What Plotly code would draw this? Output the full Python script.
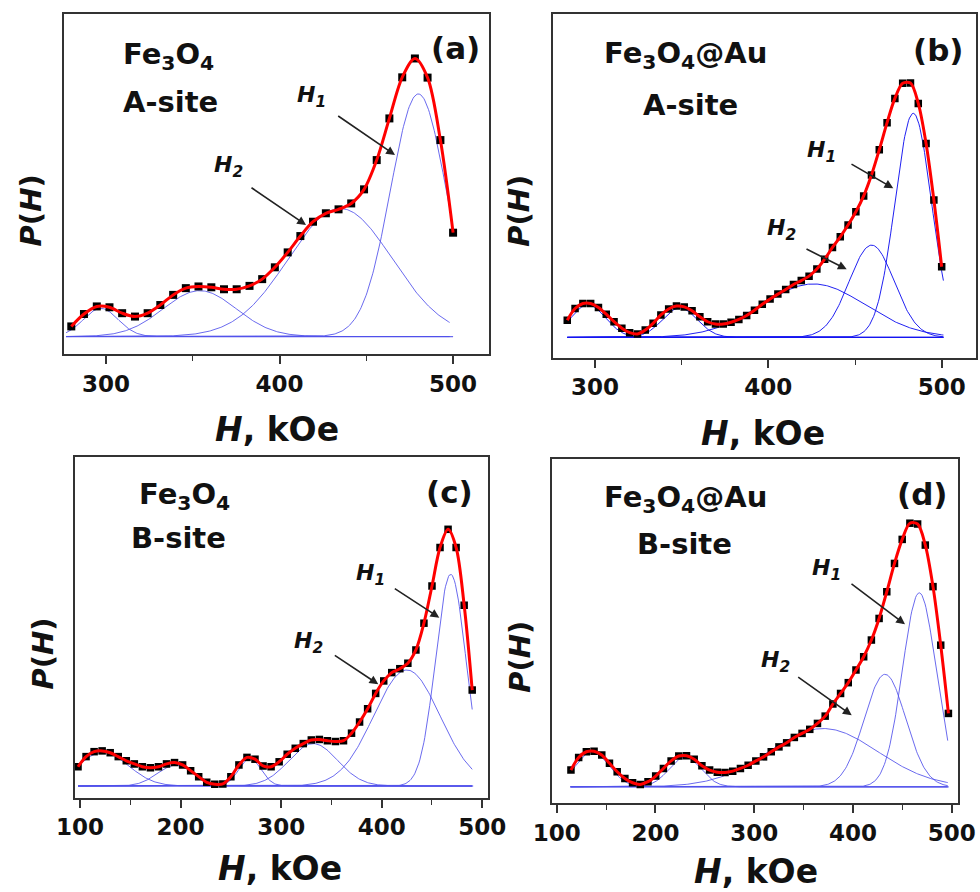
import numpy as np
import plotly.graph_objects as go

# ---------------- data ----------------
# (a) Fe3O4, A-site
H_a = [280, 287.3, 294.7, 302, 309.3, 316.7, 324, 331.3, 338.7, 346, 353.3, 360.7, 368, 375.3,
       382.7, 390, 397.3, 404.7, 412, 419.3, 426.7, 434, 441.3, 448.7, 456, 463.3, 470.7, 478,
       485.3, 492.7, 500]
P_a = [0.036, 0.080, 0.107, 0.104, 0.083, 0.071, 0.083, 0.112, 0.148, 0.172, 0.178, 0.175, 0.168,
       0.168, 0.180, 0.204, 0.246, 0.299, 0.357, 0.408, 0.438, 0.452, 0.473, 0.523, 0.627, 0.775,
       0.921, 0.988, 0.920, 0.698, 0.369]
# fitted components: centre, height, width (sigma)
comp_a_center = [297, 354, 435, 480]
comp_a_height = [0.100, 0.163, 0.455, 0.862]
comp_a_sigma = [10, 21, 30, 16]

# (b) Fe3O4@Au, A-site
H_b = [284, 288.5, 293, 297.5, 302, 306.5, 311, 315.5, 320, 324.5, 329, 333.5, 338, 342.5, 347,
       351.5, 356, 360.5, 365, 369.5, 374, 378.5, 383, 387.5, 392, 396.5, 401, 405.5, 410, 414.5,
       419, 423.5, 428, 432.5, 437, 441.5, 446, 450.5, 455, 459.5, 464, 468.5, 473, 477.5, 482,
       486.5, 491, 495.5, 500]
P_b = [0.066, 0.111, 0.130, 0.130, 0.115, 0.089, 0.060, 0.035, 0.018, 0.013, 0.028, 0.054, 0.086,
       0.109, 0.120, 0.117, 0.102, 0.079, 0.060, 0.051, 0.051, 0.058, 0.069, 0.084, 0.104, 0.127,
       0.147, 0.166, 0.184, 0.203, 0.218, 0.235, 0.262, 0.300, 0.345, 0.386, 0.431, 0.482, 0.543,
       0.623, 0.720, 0.824, 0.917, 0.975, 0.976, 0.898, 0.744, 0.527, 0.271]
comp_b_center = [296, 349, 426, 459.6, 483.6]
comp_b_height = [0.125, 0.113, 0.205, 0.354, 0.860]
comp_b_sigma = [10, 10, 30, 13, 10.5]

# (c) Fe3O4, B-site
H_c = [98, 106, 114, 122, 130, 138, 146, 154, 162, 170, 178, 186, 194, 202, 210, 218, 226, 234,
       242, 250, 258, 266, 274, 282, 290, 298, 306, 314, 322, 330, 338, 346, 354, 362, 370, 378,
       386, 394, 402, 410, 418, 426, 434, 442, 450, 458, 466, 474, 482, 490]
P_c = [0.074, 0.113, 0.132, 0.135, 0.128, 0.113, 0.097, 0.085, 0.074, 0.070, 0.074, 0.085, 0.090,
       0.081, 0.059, 0.036, 0.014, 0.007, 0.008, 0.036, 0.081, 0.110, 0.103, 0.077, 0.074, 0.093,
       0.122, 0.145, 0.163, 0.177, 0.179, 0.174, 0.171, 0.174, 0.203, 0.246, 0.297, 0.356, 0.404,
       0.436, 0.451, 0.472, 0.523, 0.626, 0.769, 0.917, 0.987, 0.917, 0.695, 0.369]
comp_c_center = [123, 195, 269, 332, 425, 468.6]
comp_c_height = [0.130, 0.080, 0.105, 0.163, 0.446, 0.814]
comp_c_sigma = [25, 18, 11, 24, 33, 15]

# (d) Fe3O4@Au, B-site
H_d = [114.5, 122.3, 130.1, 137.9, 145.7, 153.5, 161.3, 169.1, 176.9, 184.7, 192.5, 200.3, 208.1,
       215.9, 223.7, 231.5, 239.3, 247.1, 254.9, 262.7, 270.5, 278.3, 286.1, 293.9, 301.7, 309.5,
       317.3, 325.1, 332.9, 340.7, 348.5, 356.3, 364.1, 371.9, 379.7, 387.5, 395.3, 403.1, 410.9,
       418.7, 426.5, 434.3, 442.1, 449.9, 457.7, 465.5, 473.3, 481.1, 488.9, 496.7]
P_d = [0.062, 0.109, 0.130, 0.132, 0.118, 0.087, 0.056, 0.031, 0.015, 0.009, 0.019, 0.040, 0.068,
       0.096, 0.114, 0.115, 0.102, 0.078, 0.062, 0.054, 0.053, 0.058, 0.068, 0.080, 0.096, 0.111,
       0.130, 0.148, 0.163, 0.183, 0.198, 0.213, 0.235, 0.262, 0.307, 0.346, 0.386, 0.433, 0.482,
       0.544, 0.624, 0.723, 0.828, 0.917, 0.977, 0.974, 0.896, 0.742, 0.525, 0.272]
comp_d_center = [136, 230, 370, 432.5, 467.2]
comp_d_height = [0.130, 0.110, 0.216, 0.417, 0.719]
comp_d_sigma = [17, 16, 55, 21, 17]

sample_names = ["Fe<sub>3</sub>O<sub>4</sub>", "Fe<sub>3</sub>O<sub>4</sub>@Au",
                "Fe<sub>3</sub>O<sub>4</sub>", "Fe<sub>3</sub>O<sub>4</sub>@Au"]
site_names = ["A-site", "A-site", "B-site", "B-site"]
panel_tags = ["(a)", "(b)", "(c)", "(d)"]

# ---------------- layout helpers ----------------
W, Hh = 980, 892
FONT = "DejaVu Sans"
def fx(x):
    return x / W
def fy(y):
    return 1 - y / Hh

panels = [
    dict(H=H_a, P=P_a, cc=comp_a_center, ch=comp_a_height, cs=comp_a_sigma,
         box=(64, 489, 14, 354), xr=[275.8, 520.7], yr=[-0.062, 1.146], clo=277, chi=498, blo=277, bhi=500,
         blue="rgba(80,80,235,0.85)", msize=8,
         name_xy=(168.3, 55.8), site_xy=(170, 102), tag_xy=(455, 47.5),
         h1=(311.7, 96.7), h1a=((336.7, 115), (395, 155)),
         h2=(228.3, 166.7), h2a=((250, 186.7), (306, 225)),
         xt=(277, 429.5), yt=(30.7, 210.7)),
    dict(H=H_b, P=P_b, cc=comp_b_center, ch=comp_b_height, cs=comp_b_sigma,
         box=(552.7, 976, 14, 357.7), xr=[275.6, 519.8], yr=[-0.078, 1.241], clo=284, chi=501, blo=284, bhi=501,
         blue="rgba(20,20,240,0.95)", msize=7.5,
         name_xy=(685.8, 55), site_xy=(690, 105), tag_xy=(938.3, 50),
         h1=(821.7, 151.7), h1a=((850, 163.3), (893.3, 188.3)),
         h2=(781.7, 230), h2a=((805, 248.3), (846.7, 269.3)),
         xt=(763.3, 433), yt=(519, 210.7)),
    dict(H=H_c, P=P_c, cc=comp_c_center, ch=comp_c_height, cs=comp_c_sigma,
         box=(75, 488, 457, 797.7), xr=[95, 505.7], yr=[-0.045, 1.265], clo=98, chi=490, blo=98, bhi=491,
         blue="rgba(80,80,235,0.85)", msize=7.5,
         name_xy=(184.2, 496), site_xy=(178.3, 537.7), tag_xy=(449, 491.8),
         h1=(370, 574.3), h1a=((393.3, 587.7), (439.3, 617.7)),
         h2=(308.3, 642.7), h2a=((333.3, 654.3), (378.3, 684.3)),
         xt=(280, 868), yt=(43.3, 653.3)),
    dict(H=H_d, P=P_d, cc=comp_d_center, ch=comp_d_height, cs=comp_d_sigma,
         box=(551.7, 958, 459, 803), xr=[95, 506.4], yr=[-0.060, 1.215], clo=114, chi=496, blo=114, bhi=497,
         blue="rgba(80,80,235,0.85)", msize=7.5,
         name_xy=(685.8, 499.3), site_xy=(684.2, 544.3), tag_xy=(922.5, 493.5),
         h1=(826.7, 569.3), h1a=((850, 582.7), (905, 624.3)),
         h2=(775, 661), h2a=((796.7, 676), (851.7, 715.3)),
         xt=(755.8, 871), yt=(520, 656.7)),
]

fig = go.Figure()
annotations = []
layout_axes = {}

for k, p in enumerate(panels, start=1):
    xa = "x" if k == 1 else f"x{k}"
    ya = "y" if k == 1 else f"y{k}"
    # components
    grid = np.linspace(p["clo"], p["chi"], 400)
    for c, h, s in zip(p["cc"], p["ch"], p["cs"]):
        fig.add_trace(go.Scatter(x=grid, y=h * np.exp(-(grid - c) ** 2 / (2 * s ** 2)),
                                 mode="lines", line=dict(color=p["blue"], width=1),
                                 xaxis=xa, yaxis=ya, showlegend=False, hoverinfo="skip"))
    fig.add_trace(go.Scatter(x=[p["blo"], p["bhi"]], y=[0, 0], mode="lines",
                             line=dict(color=p["blue"], width=1.2),
                             xaxis=xa, yaxis=ya, showlegend=False, hoverinfo="skip"))
    # data points
    fig.add_trace(go.Scatter(x=p["H"], y=p["P"], mode="markers",
                             marker=dict(symbol="square", size=p["msize"], color="black"),
                             xaxis=xa, yaxis=ya, showlegend=False))
    # fit
    fig.add_trace(go.Scatter(x=p["H"], y=p["P"], mode="lines",
                             line=dict(color="#ff0000", width=3, shape="spline", smoothing=0.9),
                             xaxis=xa, yaxis=ya, showlegend=False))

    l, r, t, b = p["box"]
    axkey = "xaxis" if k == 1 else f"xaxis{k}"
    aykey = "yaxis" if k == 1 else f"yaxis{k}"
    layout_axes[axkey] = dict(
        domain=[fx(l), fx(r)], anchor=ya, range=p["xr"], dtick=100, tick0=0,
        showgrid=False, zeroline=False, showline=True, mirror=True, automargin=False,
        linecolor="#333", linewidth=2, ticks="outside", ticklen=8, tickwidth=1.6, tickcolor="#333",
        minor=dict(dtick=50, ticks="outside", ticklen=5, tickwidth=1.4, tickcolor="#333"),
        tickfont=dict(family=FONT, size=23, color="#111", weight="bold"))
    layout_axes[aykey] = dict(
        domain=[fy(b), fy(t)], anchor=xa, range=p["yr"], showticklabels=False, automargin=False,
        showgrid=False, zeroline=False, showline=True, mirror=True,
        linecolor="#333", linewidth=2, ticks="")

    def txt(xy, text, size, angle=0):
        annotations.append(dict(
            x=fx(xy[0]), y=fy(xy[1]), xref="paper", yref="paper", text=text, showarrow=False,
            xanchor="center", yanchor="middle", textangle=angle,
            font=dict(family=FONT, size=size, color="#111", weight="bold")))

    txt(p["name_xy"], sample_names[k - 1], 29)
    txt(p["site_xy"], site_names[k - 1], 29)
    txt(p["tag_xy"], panel_tags[k - 1], 31)
    txt(p["h1"], "<i>H<sub>1</sub></i>", 22)
    txt(p["h2"], "<i>H<sub>2</sub></i>", 22)
    txt(p["xt"], "<i>H</i>, kOe", 33)
    txt(p["yt"], "<i>P</i>(<i>H</i>)", 29, angle=-90)
    for (tail, tip) in (p["h1a"], p["h2a"]):
        annotations.append(dict(
            x=fx(tip[0]), y=fy(tip[1]), xref="paper", yref="paper",
            ax=tail[0] - tip[0], ay=tail[1] - tip[1], axref="pixel", ayref="pixel",
            text="", showarrow=True, arrowhead=2, arrowsize=1.1, arrowwidth=1.6,
            arrowcolor="#222", standoff=0, startstandoff=0))

fig.update_layout(
    width=W, height=Hh, margin=dict(l=0, r=0, t=0, b=0, pad=0, autoexpand=False),
    paper_bgcolor="white", plot_bgcolor="white", showlegend=False,
    annotations=annotations, **layout_axes)

fig.write_html("out.html", config={"displayModeBar": False},
               post_script="document.body.style.margin='0';document.body.style.overflow='hidden';")
